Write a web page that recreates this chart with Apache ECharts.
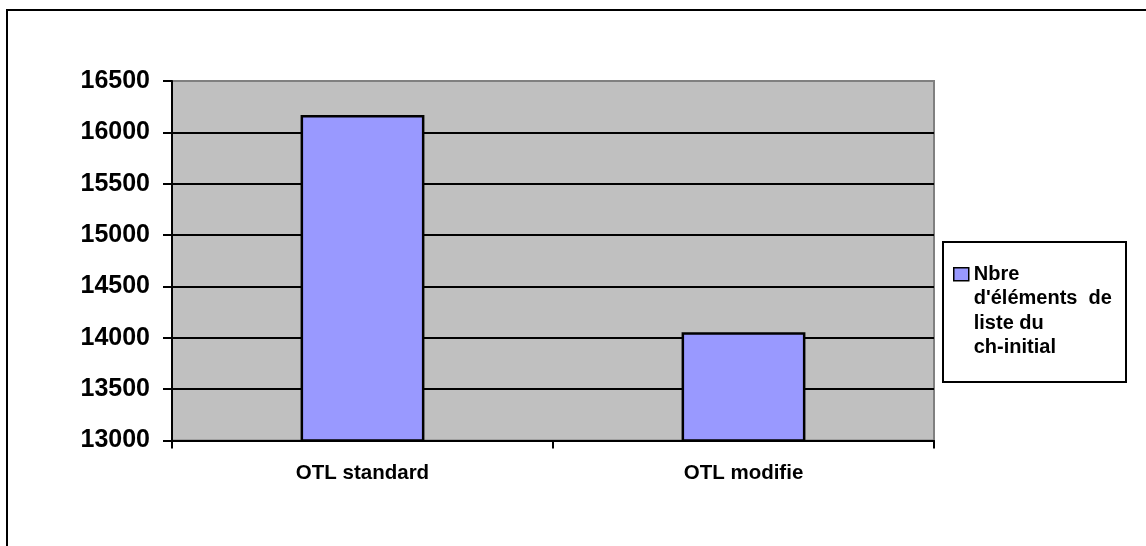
<!DOCTYPE html>
<html>
<head>
<meta charset="utf-8">
<script src="https://cdn.jsdelivr.net/npm/echarts@6/dist/echarts.min.js"></script>
<style>
  html, body { margin: 0; padding: 0; background: #fff; }
  #chart { width: 1146px; height: 546px; }
</style>
</head>
<body>
<div id="chart"></div>
<script>
// Number of list elements for each OTL variant
const categories = ['OTL standard', 'OTL modifie'];
const listCounts = [16170, 14055];
const seriesName = "Nbre d'éléments  de liste du ch-initial";
const legendLines = ['Nbre', "d'éléments  de", 'liste du', 'ch-initial'];
const yTicks = { min: 13000, max: 16500, interval: 500 };

const FONT = '"Liberation Sans", Arial, sans-serif';
const LEGEND_LINE_H = 24.5;

const chart = echarts.init(document.getElementById('chart'), null, { renderer: 'canvas' });

chart.setOption({
  animation: false,
  backgroundColor: '#fff',
  textStyle: { fontFamily: FONT },
  graphic: [
    {
      // chart frame
      type: 'rect',
      z: -10,
      silent: true,
      shape: { x: 7, y: 10, width: 1170, height: 570 },
      style: { fill: '#fff', stroke: '#000', lineWidth: 2 }
    },
    {
      // legend frame
      type: 'rect',
      z: 1,
      silent: true,
      shape: { x: 943, y: 242, width: 183, height: 140 },
      style: { fill: '#fff', stroke: '#000', lineWidth: 2 }
    }
  ],
  grid: {
    left: 172,
    right: 212,
    top: 81,
    bottom: 105.5,
    show: true,
    backgroundColor: '#c0c0c0',
    borderColor: '#808080',
    borderWidth: 2
  },
  legend: {
    orient: 'vertical',
    left: 953,
    top: 188.5,
    padding: 0,
    z: 5,
    icon: 'rect',
    itemWidth: 15,
    itemHeight: 13,
    itemStyle: { borderColor: '#000', borderWidth: 1.5 },
    // three leading empty lines put the first text line level with the swatch
    formatter: () => '\n\n\n' + legendLines.join('\n'),
    textStyle: {
      fontFamily: FONT,
      fontWeight: 'bold',
      fontSize: 20,
      lineHeight: LEGEND_LINE_H,
      color: '#000'
    },
    data: [seriesName]
  },
  xAxis: {
    type: 'category',
    data: categories,
    axisLine: { show: true, lineStyle: { color: '#000', width: 2 } },
    axisTick: { show: true, length: 8, lineStyle: { color: '#000', width: 2 } },
    axisLabel: {
      fontFamily: FONT,
      fontWeight: 'bold',
      fontSize: 20.5,
      color: '#000',
      margin: 22
    },
    splitLine: { show: false }
  },
  yAxis: {
    type: 'value',
    min: yTicks.min,
    max: yTicks.max,
    interval: yTicks.interval,
    axisLine: { show: true, lineStyle: { color: '#000', width: 2 } },
    axisTick: { show: true, length: 9, lineStyle: { color: '#000', width: 2 } },
    axisLabel: {
      fontFamily: FONT,
      fontWeight: 'bold',
      fontSize: 25,
      color: '#000',
      margin: 22,
      padding: [4, 0, 0, 0],
      formatter: (v) => String(v)
    },
    splitLine: {
      show: true,
      showMaxLine: false,
      lineStyle: { color: '#000', width: 2 }
    }
  },
  series: [
    {
      name: seriesName,
      type: 'bar',
      data: listCounts,
      barWidth: '32.5%',
      itemStyle: { color: '#9999ff', borderColor: '#000', borderWidth: 2.5 }
    }
  ]
});
</script>
</body>
</html>
